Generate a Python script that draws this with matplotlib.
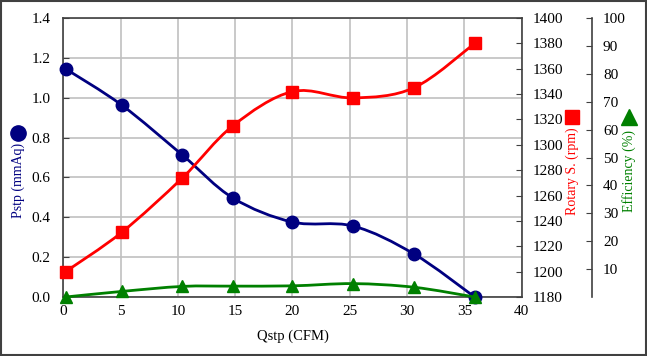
import numpy as np
import matplotlib
matplotlib.use("Agg")
import matplotlib.pyplot as plt
from matplotlib.path import Path
from matplotlib.patches import PathPatch
from matplotlib.lines import Line2D

plt.rcParams['font.family'] = ['Liberation Serif', 'DejaVu Serif']

# data
qstp = [0.2, 5.1, 10.4, 14.8, 20.0, 25.3, 30.6, 35.9]
pstp = [1.145, 0.963, 0.712, 0.497, 0.376, 0.356, 0.216, 0.0]
rpm = [1200, 1231, 1274, 1315, 1342, 1337, 1345, 1380]
eff = [0.0, 2.0, 3.8, 3.9, 4.0, 4.8, 3.5, 0.0]

NAVY = '#000080'
RED = '#ff0000'
GREEN = '#008000'
FRAME = '#404040'


def smooth_path(xs, ys):
    # Excel style smoothed line: cubic bezier through the points
    pts = np.column_stack([xs, ys]).astype(float)
    n = len(pts)
    verts = [pts[0]]
    codes = [Path.MOVETO]
    for i in range(n - 1):
        p0 = pts[i - 1] if i > 0 else pts[i]
        p1 = pts[i]
        p2 = pts[i + 1]
        p3 = pts[i + 2] if i + 2 < n else pts[i + 1]
        c1 = p1 + (p2 - p0) / 6.0
        c2 = p2 - (p3 - p1) / 6.0
        verts += [c1, c2, p2]
        codes += [Path.CURVE4] * 3
    return Path(verts, codes)


def draw_series(axis, xs, ys, color, marker, ms):
    axis.add_patch(PathPatch(smooth_path(xs, ys), facecolor='none',
                             edgecolor=color, lw=2, clip_on=False, zorder=3))
    axis.plot(xs, ys, ls='none', marker=marker, ms=ms, color=color,
              clip_on=False, zorder=4)


fig = plt.figure(figsize=(6.47, 3.56), dpi=100)
ax = fig.add_axes([0.0978, 0.1657, 0.7085, 0.7837])
ax2 = ax.twinx()
ax3 = ax.twinx()

# primary axis
ax.set_xlim(0, 40)
ax.set_ylim(0, 1.4)
ax.set_xticks(np.arange(0, 41, 5))
ax.set_yticks(np.arange(0, 1.41, 0.2))
ax.set_yticklabels(['%.1f' % v for v in np.arange(0, 1.41, 0.2)])
ax.grid(True, color='#c0c0c0', lw=1.2)
ax.set_axisbelow(True)
ax.tick_params(axis='both', direction='in', labelsize=11, color=FRAME,
               length=4)
ax.tick_params(axis='y', pad=9)
ax.tick_params(axis='x', pad=6, length=0)
ax.set_xlabel('Qstp (CFM)', fontsize=10.5, labelpad=8)
for s in ax.spines.values():
    s.set_color(FRAME)
    s.set_linewidth(1.2)

# rotary speed axis
ax2.set_ylim(1180, 1400)
ax2.set_yticks(np.arange(1180, 1401, 20))
ax2.tick_params(axis='y', direction='in', labelsize=11, color=FRAME,
                length=4, pad=8)
for s in ax2.spines.values():
    s.set_visible(False)

# efficiency axis
ax3.set_ylim(0, 100)
ax3.set_yticks(np.arange(10, 101, 10))
ax3.spines['right'].set_position(('axes', 1.153))
for k in ['top', 'left', 'bottom']:
    ax3.spines[k].set_visible(False)
ax3.spines['right'].set_color(FRAME)
ax3.spines['right'].set_linewidth(1.2)
ax3.tick_params(axis='y', direction='in', labelsize=11, color=FRAME,
                length=4, pad=8)

draw_series(ax, qstp, pstp, NAVY, 'o', 9)
draw_series(ax2, qstp, rpm, RED, 's', 9)
draw_series(ax3, qstp, eff, GREEN, '^', 8)

# axis titles with their marker symbols
fig.text(0.028, 0.493, 'Pstp (mmAq)', rotation=90, color=NAVY, fontsize=10,
         ha='center', va='center')
fig.text(0.884, 0.518, 'Rotary S. (rpm)', rotation=90, color=RED, fontsize=10,
         ha='center', va='center')
fig.text(0.972, 0.521, 'Efficiency (%)', rotation=90, color=GREEN, fontsize=10,
         ha='center', va='center')
fig.add_artist(Line2D([0.028], [0.626], marker='o', ms=11, color=NAVY,
                      transform=fig.transFigure))
fig.add_artist(Line2D([0.884], [0.671], marker='s', ms=10, color=RED,
                      transform=fig.transFigure))
fig.add_artist(Line2D([0.972], [0.671], marker='^', ms=11, color=GREEN,
                      transform=fig.transFigure))

# frame round the whole picture
fig.add_artist(plt.Rectangle((0.001, 0.002), 0.997, 0.995, fill=False,
                             edgecolor=FRAME, lw=1.5,
                             transform=fig.transFigure))

fig.savefig('out.png', dpi=100)
